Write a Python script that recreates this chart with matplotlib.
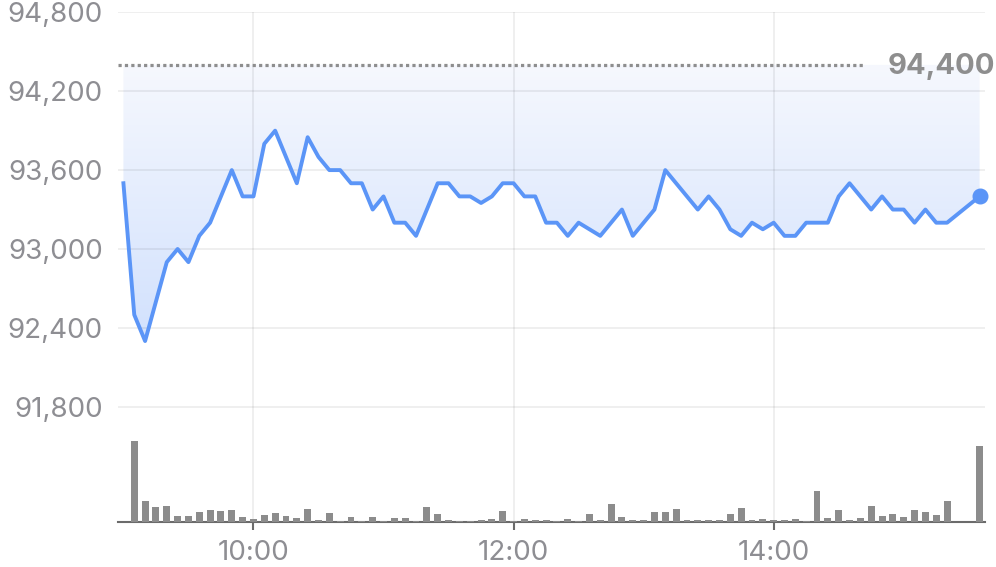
import matplotlib
matplotlib.use("Agg")
import matplotlib.pyplot as plt
import numpy as np
from matplotlib.colors import LinearSegmentedColormap
from matplotlib.ticker import FuncFormatter

plt.rcParams['font.family'] = ['Inter', 'DejaVu Sans']

# ---- data ----
# 5-minute points from 09:00 (index k -> 09:00 + 5k min); None = no trade
prices = [93500, 92500, 92300, 92600, 92900, 93000, 92900, 93100, 93200, 93400,
          93600, 93400, 93400, 93800, 93900, 93700, 93500, 93850, 93700, 93600,
          93600, 93500, 93500, 93300, 93400, 93200, 93200, 93100, 93300, 93500,
          93500, 93400, 93400, 93350, 93400, 93500, 93500, 93400, 93400, 93200,
          93200, 93100, 93200, 93150, 93100, 93200, 93300, 93100, 93200, 93300,
          93600, 93500, 93400, 93300, 93400, 93300, 93150, 93100, 93200, 93150,
          93200, 93100, 93100, 93200, 93200, 93200, 93400, 93500, 93400, 93300,
          93400, 93300, 93300, 93200, 93300, 93200, 93200, None, None, 93400]
volumes = [0, 80.7, 20.7, 14.7, 15.7, 5.7, 5.7, 9.7, 11.7, 10.7,
           11.7, 4.7, 2.7, 6.7, 8.7, 5.7, 3.7, 12.7, 1.7, 8.7,
           0.7, 4.7, 0.7, 4.7, 0.7, 3.7, 3.7, 0.7, 14.7, 7.7,
           1.7, 0.3, 0.7, 1.7, 2.7, 10.7, 0.7, 2.7, 1.7, 1.7,
           0.7, 2.7, 0.3, 7.7, 1.7, 17.7, 4.7, 1.7, 1.7, 9.7,
           9.7, 12.7, 1.7, 1.7, 1.7, 1.7, 7.7, 13.7, 1.7, 2.7,
           1.7, 1.7, 2.7, 0.7, 30.7, 3.7, 11.7, 1.7, 3.7, 15.7,
           5.7, 7.7, 4.7, 11.7, 9.7, 6.7, 20.7, 0, 0, 75.7]
prev_close = 94400
y_ticks = [91800, 92400, 93000, 93600, 94200, 94800]
x_tick_labels = ["10:00", "12:00", "14:00"]

# ---- derived ----
minutes = np.arange(len(prices)) * 5
mask = np.array([p is not None for p in prices])
t = minutes[mask]
p = np.array([v for v in prices if v is not None], dtype=float)
tick_pos = [(int(s[:2]) - 9) * 60 + int(s[3:]) for s in x_tick_labels]

W, H = 996, 567
fig = plt.figure(figsize=(W / 100, H / 100), dpi=100)
left_px, right_px, top_px, bot_px = 118, 985, 12.3, 521.7
ax = fig.add_axes([left_px / W, 1 - bot_px / H, (right_px - left_px) / W, (bot_px - top_px) / H])

ymax = 94800
won_per_px = 600 / 78.9
ymin = ymax - (bot_px - top_px) * won_per_px
ax.set_ylim(ymin, ymax)
ax.set_xlim(-2.5, 397.5)

line_col = '#5b95f7'
grid_col = (0, 0, 0, 0.07)

# gridlines
for yv in y_ticks:
    ax.axhline(yv, color=grid_col, lw=1.3, zorder=1.5)
for xv in tick_pos:
    ax.axvline(xv, color=grid_col, lw=1.3, zorder=1.5)

# gradient fill between price line and previous close
poly = ax.fill_between(t, p, prev_close, facecolor='none', edgecolor='none')
path = poly.get_paths()[0]
cmap = LinearSegmentedColormap.from_list('g', ['#d0e0fd', '#f6f8fe'])
grad = np.linspace(0, 1, 256).reshape(-1, 1)
im = ax.imshow(grad, extent=[t[0], t[-1], 92200, prev_close], aspect='auto',
               origin='lower', cmap=cmap, zorder=1, interpolation='bicubic')
im.set_clip_path(path, transform=ax.transData)

# previous close dotted line
ax.plot([-2.5, 342], [prev_close, prev_close], color='#8e8e8e', lw=2.3,
        linestyle=(0, (1, 1)), zorder=2, solid_capstyle='butt')
fig.text(995 / W, 1 - 66 / H, f"{prev_close:,}", ha='right', va='center',
         fontsize=21, fontweight='bold', color='#8e8e8e')

# price line
ax.plot(t, p, color=line_col, lw=2.8, zorder=3, solid_joinstyle='round')
ax.plot([t[-1]], [p[-1]], 'o', color=line_col, ms=10.5, zorder=4, clip_on=False)

ax.set_ylim(ymin, ymax)
ax.set_xlim(-2.5, 397.5)

# axes styling
for s in ['top', 'right', 'left']:
    ax.spines[s].set_visible(False)
ax.spines['bottom'].set_color('#6b6b6b')
ax.spines['bottom'].set_linewidth(1.5)
ax.set_yticks(y_ticks)
ax.yaxis.set_major_formatter(FuncFormatter(lambda v, pos: f"{int(v):,}"))
ax.tick_params(axis='y', length=0, pad=11, labelsize=20, labelcolor='#8e8e93')
ax.set_xticks(tick_pos)
ax.set_xticklabels(x_tick_labels)
ax.tick_params(axis='x', length=6, width=1.5, color='#6b6b6b', pad=7,
               labelsize=20, labelcolor='#8e8e93')

# volume bars
axv = ax.twinx()
axv.set_position(ax.get_position())
axv.bar(minutes, volumes, width=3.2, color='#8c8c8c', zorder=2)
axv.set_ylim(0, bot_px - top_px)
axv.set_xlim(-2.5, 397.5)
for s in axv.spines.values():
    s.set_visible(False)
axv.set_yticks([])
axv.tick_params(axis='x', length=0)

fig.savefig('out.png', dpi=100)
